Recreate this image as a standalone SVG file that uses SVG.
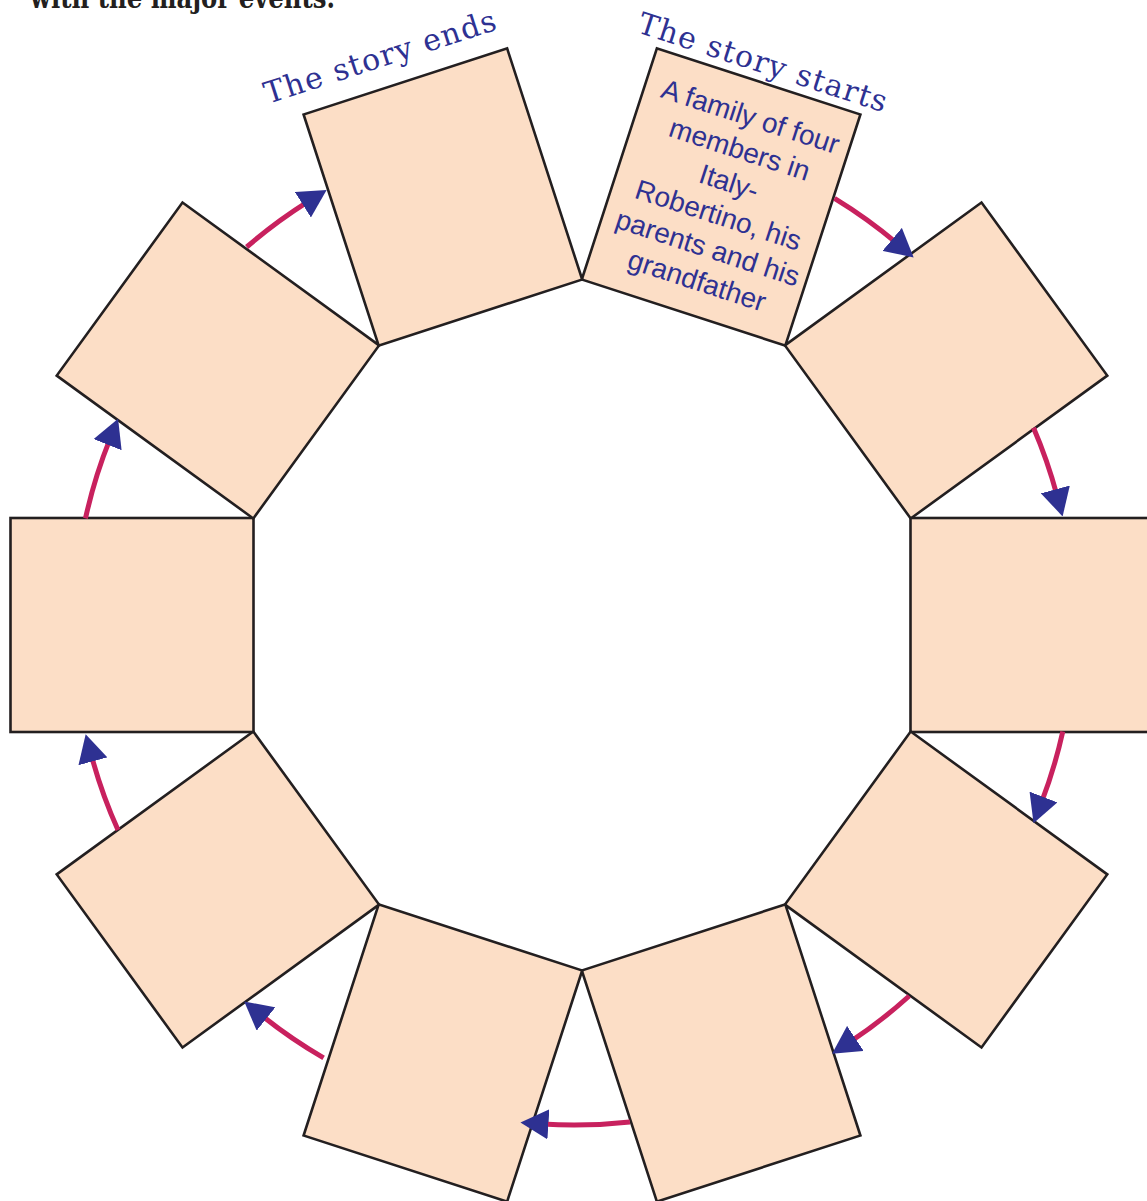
<svg xmlns="http://www.w3.org/2000/svg" width="1147" height="1201" viewBox="0 0 1147 1201">
<style>
.box{fill:#fcdec6;stroke:#231f20;stroke-width:2.6}
.conn{fill:none;stroke:#c8215e;stroke-width:5}
.lbl{font-family:"DejaVu Serif","Liberation Serif",serif;font-size:30px;fill:#2e3192}
.inner{font-family:"Liberation Sans",Arial,sans-serif;font-size:28px;fill:#2e3192;text-anchor:middle}
.head{font-family:"DejaVu Serif","Liberation Serif",serif;font-size:30px;font-weight:bold;fill:#231f20}
</style>
<defs>
<marker id="ah" markerUnits="userSpaceOnUse" viewBox="0 0 28 30" markerWidth="28" markerHeight="30" refX="6" refY="15" orient="auto">
<path d="M0,0 L28,15 L0,30 Z" fill="#2e3192"/>
</marker>
</defs>
<rect width="1147" height="1201" fill="#ffffff"/>
<text class="head" x="30" y="8" textLength="305" lengthAdjust="spacingAndGlyphs">with the major events.</text>

<g id="node-start">
<rect class="box" x="-121.5" y="-107" width="243" height="214" transform="translate(721.1,197) rotate(-72)"/>
<g transform="translate(721.1,197) rotate(18)">
<text class="inner" x="3" y="-76">A family of four</text>
<text class="inner" x="3" y="-41.5">members in</text>
<text class="inner" x="3" y="-7">Italy-</text>
<text class="inner" x="3" y="27.5">Robertino, his</text>
<text class="inner" x="3" y="62">parents and his</text>
<text class="inner" x="3" y="96.5">grandfather</text>
</g>
</g>
<g id="node-2"><rect class="box" x="-121.5" y="-107" width="243" height="214" transform="translate(946.1,360.5) rotate(-36)"/></g>
<g id="node-3"><rect class="box" x="-121.5" y="-107" width="243" height="214" transform="translate(1032,625) rotate(0)"/></g>
<g id="node-4"><rect class="box" x="-121.5" y="-107" width="243" height="214" transform="translate(946.1,889.5) rotate(36)"/></g>
<g id="node-5"><rect class="box" x="-121.5" y="-107" width="243" height="214" transform="translate(721.1,1053) rotate(72)"/></g>
<g id="node-6"><rect class="box" x="-121.5" y="-107" width="243" height="214" transform="translate(442.9,1053) rotate(108)"/></g>
<g id="node-7"><rect class="box" x="-121.5" y="-107" width="243" height="214" transform="translate(217.9,889.5) rotate(144)"/></g>
<g id="node-8"><rect class="box" x="-121.5" y="-107" width="243" height="214" transform="translate(132,625) rotate(180)"/></g>
<g id="node-9"><rect class="box" x="-121.5" y="-107" width="243" height="214" transform="translate(217.9,360.5) rotate(216)"/></g>
<g id="node-end"><rect class="box" x="-121.5" y="-107" width="243" height="214" transform="translate(442.9,197) rotate(252)"/></g>

<g id="connectors">
<path class="conn" marker-end="url(#ah)" d="M834.5,198.4 A500,500 0 0 1 896.8,243.2"/>
<path class="conn" marker-end="url(#ah)" d="M1033.5,427.8 A500,500 0 0 1 1056.9,495.2"/>
<path class="conn" marker-end="url(#ah)" d="M1062.8,731.5 A500,500 0 0 1 1041.4,802.6"/>
<path class="conn" marker-end="url(#ah)" d="M909.2,996.0 A500,500 0 0 1 850.4,1041.7"/>
<path class="conn" marker-end="url(#ah)" d="M629.9,1121.9 A500,500 0 0 1 542.4,1124.0"/>
<path class="conn" marker-end="url(#ah)" d="M323.6,1057.8 A500,500 0 0 1 261.4,1015.2"/>
<path class="conn" marker-end="url(#ah)" d="M118.0,830.1 A500,500 0 0 1 91.4,755.5"/>
<path class="conn" marker-end="url(#ah)" d="M85.5,518.4 A500,500 0 0 1 109.9,439.1"/>
<path class="conn" marker-end="url(#ah)" d="M246.7,247.0 A500,500 0 0 1 308.0,201.6"/>
</g>

<g id="label-start">
<text class="lbl" transform="translate(636,32) rotate(18)" textLength="260" lengthAdjust="spacing">The story starts</text>
</g>
<g id="label-end">
<text class="lbl" transform="translate(268,104) rotate(-18)" textLength="242" lengthAdjust="spacing">The story ends</text>
</g>
</svg>
